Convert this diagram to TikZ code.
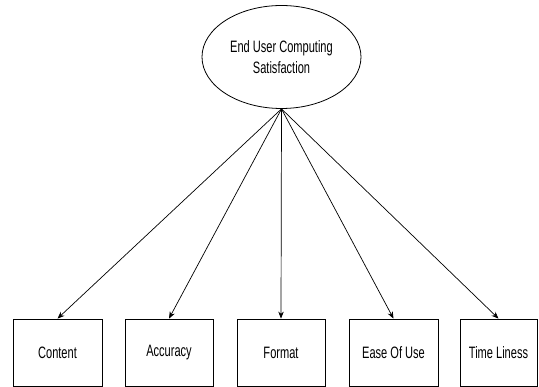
\documentclass[tikz,border=0pt]{standalone}
\usepackage{fontspec}
\setmainfont{Liberation Sans}
\newfontfamily\narrowfont[FakeStretch=0.67]{Liberation Sans}
\usetikzlibrary{arrows.meta,shapes.geometric}
\begin{document}
\begin{tikzpicture}[x=1pt,y=-1pt,
  lbl/.style={font=\narrowfont\fontsize{16.5}{21}\selectfont},
  ell/.style={draw,ellipse,line width=0.8pt,minimum width=159pt,minimum height=103pt,inner sep=0pt,align=center,lbl},
  boxnode/.style={draw,rectangle,line width=0.8pt,minimum height=67pt,inner sep=0pt,lbl},
  conn/.style={line width=0.7pt,-{Stealth[length=7pt,width=5.5pt]}}]
\useasboundingbox (0,0) rectangle (539,387);
\node[ell] (top) at (281.5,57) {End User Computing\\Satisfaction};
\node[boxnode,minimum width=89pt] (b1) at (57.5,352.5) {Content};
\node[boxnode,minimum width=88pt] (b2) at (169,352.5) {Accuracy};
\node[boxnode,minimum width=88pt] (b3) at (281,352.5) {Format};
\node[boxnode,minimum width=89pt] (b4) at (393.5,352.5) {Ease Of Use};
\node[boxnode,minimum width=77pt] (b5) at (498.5,352.5) {Time Liness};
\foreach \b in {b1,b2,b3,b4,b5}{\draw[conn] (top.south) -- (\b.north);}
\end{tikzpicture}
\end{document}
